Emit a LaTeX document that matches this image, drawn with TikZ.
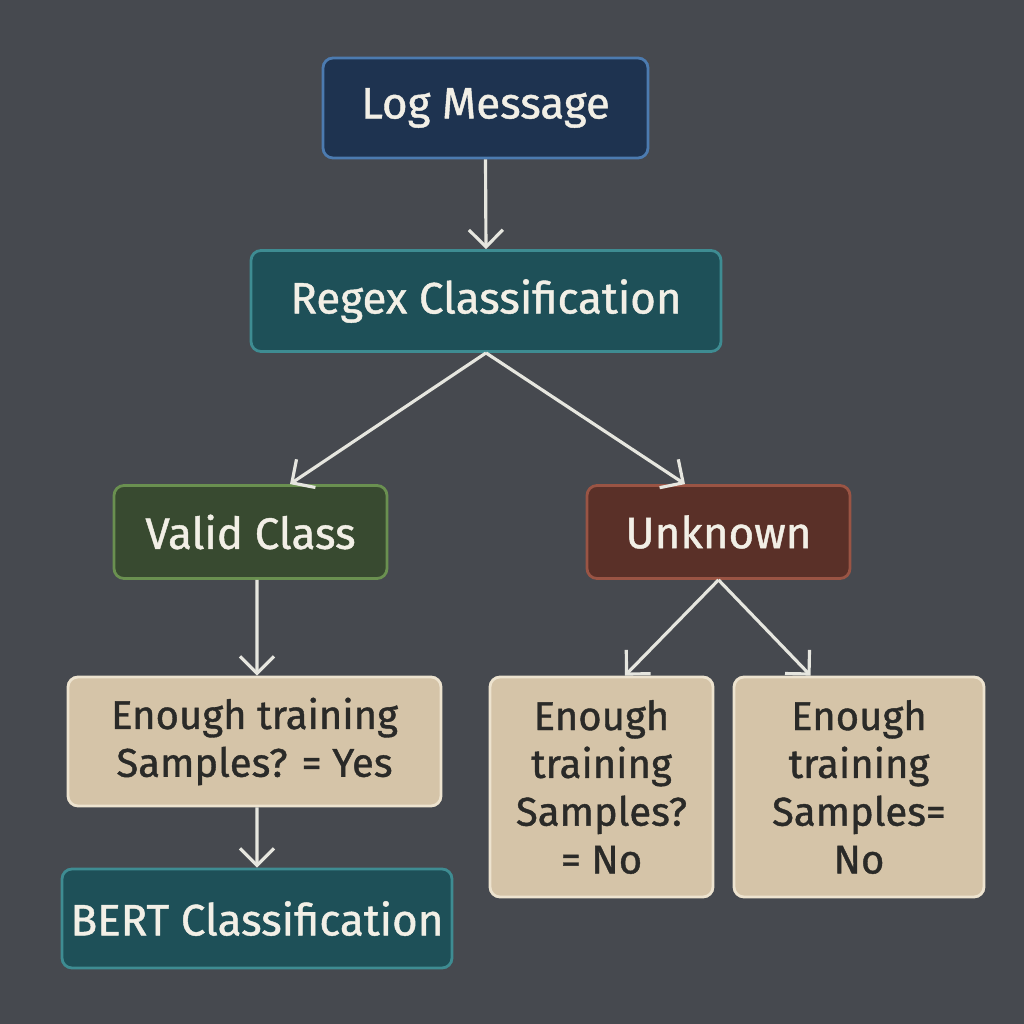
\documentclass[tikz,border=0pt]{standalone}
\usepackage{fontspec}
\setmainfont{Fira Sans}[FakeBold=1]
\usetikzlibrary{arrows.meta}
\definecolor{bgcol}{HTML}{46494F}
\definecolor{arrcol}{HTML}{E6E6DF}
\definecolor{txtlight}{HTML}{F2EFE6}
\definecolor{txtdark}{HTML}{2A2A28}
\definecolor{navyfill}{HTML}{1E3350}
\definecolor{navydraw}{HTML}{4C7BB0}
\definecolor{tealfill}{HTML}{1E5058}
\definecolor{tealdraw}{HTML}{3E8C92}
\definecolor{greenfill}{HTML}{384A30}
\definecolor{greendraw}{HTML}{6A9050}
\definecolor{redfill}{HTML}{5A3028}
\definecolor{reddraw}{HTML}{9A5444}
\definecolor{sandfill}{HTML}{D5C4A8}
\definecolor{sanddraw}{HTML}{EDE3CF}
\tikzstyle{box}=[rectangle, rounded corners=0.1cm, line width=0.8pt, inner sep=0pt, align=center, anchor=center]
\tikzstyle{darkbox}=[box, text=txtlight, font=\fontsize{12.5}{15}\selectfont]
\tikzstyle{sandbox}=[box, fill=sandfill, draw=sanddraw, text=txtdark, font=\fontsize{11.4}{13.6}\selectfont]
\tikzstyle{link}=[draw=arrcol, line width=0.9pt, -{Straight Barb[length=0.17cm, width=0.34cm, line width=0.9pt]}]
\begin{document}
\begin{tikzpicture}
	\fill[bgcol] (0,0) rectangle (10.24,10.24);
	\useasboundingbox (0,0) rectangle (10.24,10.24);

	\node[darkbox, fill=navyfill, draw=navydraw, minimum width=3.25cm, minimum height=1cm](logmsg) at (4.855,9.16){Log Message};
	\node[darkbox, fill=tealfill, draw=tealdraw, minimum width=4.7cm, minimum height=1.01cm](regex) at (4.86,7.23){Regex Classification};
	\node[darkbox, fill=greenfill, draw=greendraw, minimum width=2.73cm, minimum height=0.93cm](valid) at (2.505,4.92){Valid Class};
	\node[darkbox, fill=redfill, draw=reddraw, minimum width=2.63cm, minimum height=0.93cm](unknown) at (7.185,4.92){Unknown};
	\node[sandbox, minimum width=3.73cm, minimum height=1.29cm](yes) at (2.545,2.825){Enough training\\Samples? = Yes};
	\node[sandbox, minimum width=2.23cm, minimum height=2.2cm](noa) at (6.015,2.37){Enough\\training\\Samples?\\= No};
	\node[sandbox, minimum width=2.5cm, minimum height=2.2cm](nob) at (8.59,2.37){Enough\\training\\Samples=\\No};
	\node[darkbox, fill=tealfill, draw=tealdraw, minimum width=3.9cm, minimum height=0.99cm](bert) at (2.57,1.055){BERT Classification};

	\draw[link] (logmsg.south) -- (regex.north);
	\draw[link] (regex.south) -- ([xshift=0.395cm]valid.north);
	\draw[link] (regex.south) -- ([xshift=-0.335cm]unknown.north);
	\draw[link] ([xshift=0.065cm]valid.south) -- ([xshift=0.025cm]yes.north);
	\draw[link] (unknown.south) -- ([xshift=0.235cm]noa.north);
	\draw[link] (unknown.south) -- ([xshift=0.78cm]nob.north west);
	\draw[link] ([xshift=0.025cm]yes.south) -- ([xshift=0cm]bert.north);
\end{tikzpicture}
\end{document}
